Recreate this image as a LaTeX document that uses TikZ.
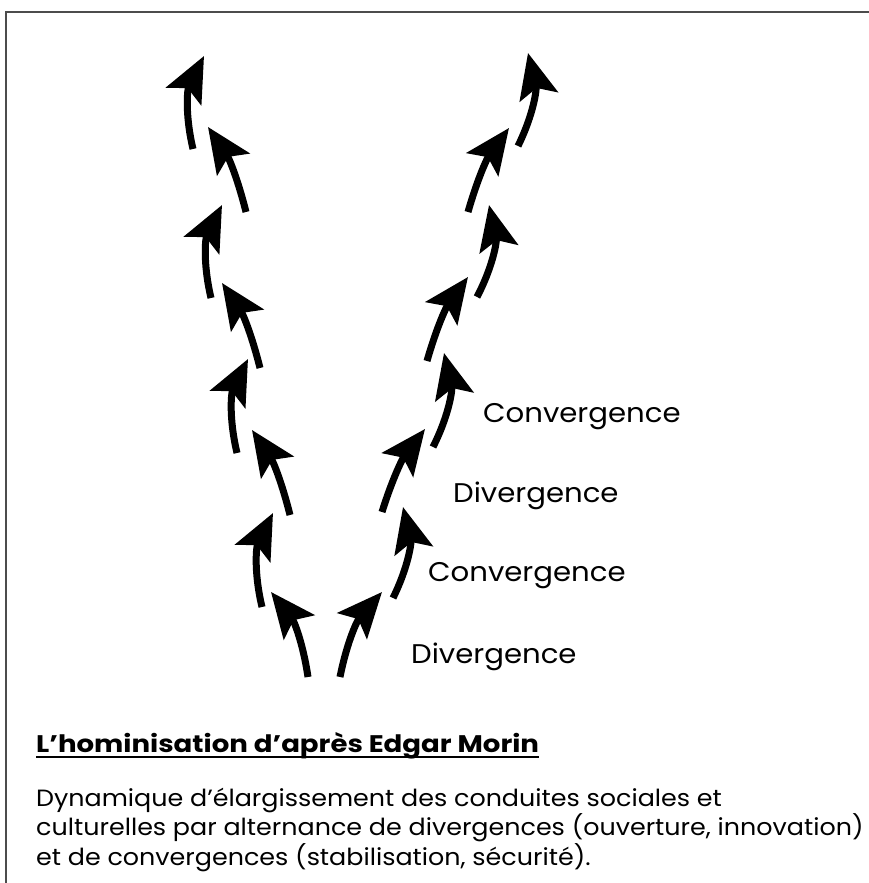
\documentclass[tikz,border=0pt]{standalone}
\usepackage{fontspec}
\setmainfont{Poppins}
\newfontfamily\widefont[FakeStretch=1.08]{Poppins}
\newfontfamily\titlefont[FakeStretch=1.15]{Poppins}
\usetikzlibrary{arrows.meta}
\tikzstyle{arrow} = [line width=7pt, -{Stealth[length=45pt, width=39pt, inset=9pt]}]
\tikzstyle{phase} = [anchor=west, inner sep=0pt, font=\widefont\fontsize{27}{32}\selectfont]
\tikzstyle{frame} = [draw=black!70, line width=2.5pt]

\begin{document}
\begin{tikzpicture}[x=1pt, y=1pt]
\useasboundingbox (0,0) rectangle (869,883);

% Frame
\coordinate (fbl) at (6,0);
\coordinate (ftl) at (6,871);
\coordinate (ftr) at (869,871);
\draw [frame] (fbl) -- (ftl) -- (ftr);

% Left branch
\coordinate (l1s) at (308,206); \coordinate (l1e) at (271,291);
\coordinate (l2s) at (262,276); \coordinate (l2e) at (273,370);
\coordinate (l3s) at (290,368); \coordinate (l3e) at (252,453);
\coordinate (l4s) at (237,430); \coordinate (l4e) at (248,524);
\coordinate (l5s) at (260,515); \coordinate (l5e) at (222,600);
\coordinate (l6s) at (211,585); \coordinate (l6e) at (222,678);
\coordinate (l7s) at (246,671); \coordinate (l7e) at (208,756);
\coordinate (l8s) at (193,734); \coordinate (l8e) at (204,827);

% Right branch
\coordinate (r1s) at (340,206); \coordinate (r1e) at (382,291);
\coordinate (r2s) at (393,285); \coordinate (r2e) at (403,376);
\coordinate (r3s) at (382,371); \coordinate (r3e) at (425,454);
\coordinate (r4s) at (433,436); \coordinate (r4e) at (444,530);
\coordinate (r5s) at (427,522); \coordinate (r5e) at (468,606);
\coordinate (r6s) at (477,586); \coordinate (r6e) at (489,678);
\coordinate (r7s) at (468,671); \coordinate (r7e) at (509,755);
\coordinate (r8s) at (518,737); \coordinate (r8e) at (528,830);

% Arrows
\draw [arrow] (l1s) to[bend right=15] (l1e);
\draw [arrow] (l2s) to[bend left=20] (l2e);
\draw [arrow] (l3s) to[bend right=10] (l3e);
\draw [arrow] (l4s) to[bend left=20] (l4e);
\draw [arrow] (l5s) to[bend right=10] (l5e);
\draw [arrow] (l6s) to[bend left=20] (l6e);
\draw [arrow] (l7s) to[bend right=10] (l7e);
\draw [arrow] (l8s) to[bend left=20] (l8e);

\draw [arrow] (r1s) to[bend left=15] (r1e);
\draw [arrow] (r2s) to[bend right=20] (r2e);
\draw [arrow] (r3s) to[bend left=10] (r3e);
\draw [arrow] (r4s) to[bend right=20] (r4e);
\draw [arrow] (r5s) to[bend left=10] (r5e);
\draw [arrow] (r6s) to[bend right=20] (r6e);
\draw [arrow] (r7s) to[bend left=10] (r7e);
\draw [arrow] (r8s) to[bend right=20] (r8e);

% Labels
\node (conv2) [phase] at (483,466) {Convergence};
\node (div2) [phase] at (453,387) {Divergence};
\node (conv1) [phase] at (428,307) {Convergence};
\node (div1) [phase] at (411,226) {Divergence};

% Caption
\node (title) [anchor=base west, inner sep=0pt, font=\titlefont\fontsize{24}{28}\selectfont\bfseries] at (36,130) {L’hominisation d’après Edgar Morin};
\draw [line width=2pt] ([yshift=-4pt]title.base west) -- ([yshift=-4pt]title.base east);
\node (body) [anchor=north west, inner sep=0pt, align=left, font=\widefont\fontsize{23.5}{25.5}\selectfont] at (36,95) {Dynamique d’élargissement des conduites sociales et\\culturelles par alternance de divergences (ouverture, innovation)\\et de convergences (stabilisation, sécurité).};

\end{tikzpicture}
\end{document}
